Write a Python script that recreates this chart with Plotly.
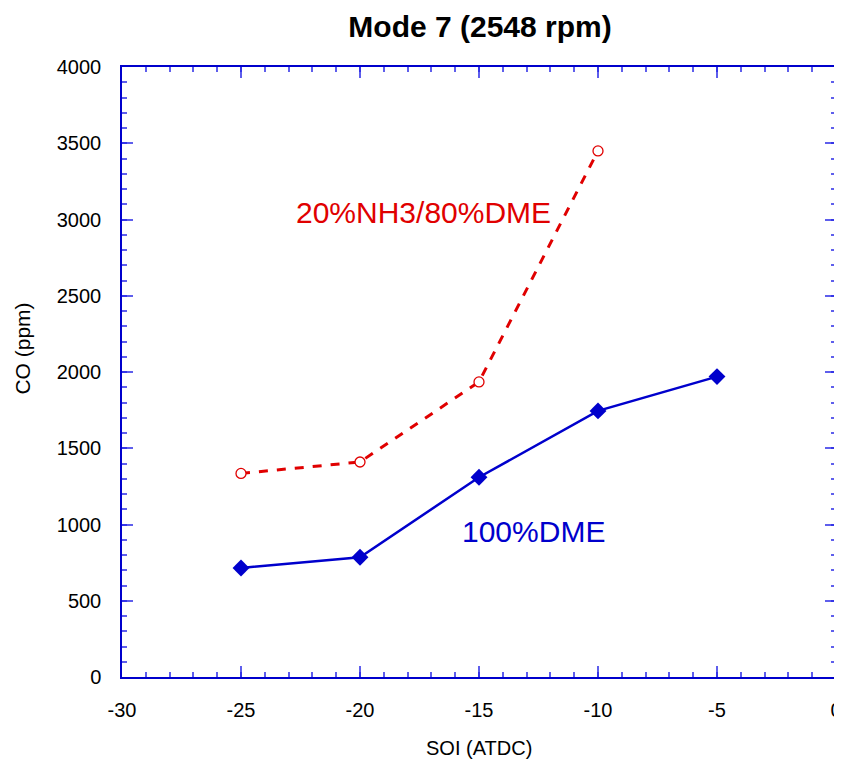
import plotly.graph_objects as go

soi_dme = [-25, -20, -15, -10, -5]
co_dme = [715, 785, 1310, 1745, 1970]
soi_nh3 = [-25, -20, -15, -10]
co_nh3 = [1335, 1410, 1935, 3450]

x_ticks = [-30, -25, -20, -15, -10, -5, 0]
x_tick_labels = ["-30", "-25", "-20", "-15", "-10", "-5", "0"]
y_ticks = [0, 500, 1000, 1500, 2000, 2500, 3000, 3500, 4000]
y_tick_labels = ["0", "500", "1000", "1500", "2000", "2500", "3000", "3500", "4000"]

BLUE = "#0000CC"
RED = "#E00000"
FONT = "Liberation Sans, Arial, sans-serif"

fig = go.Figure()
fig.add_trace(go.Scatter(x=soi_nh3, y=co_nh3, mode="lines+markers",
                         line=dict(color=RED, width=3, dash="dash"),
                         marker=dict(symbol="circle", size=10, color="white", line=dict(width=1.3, color=RED)),
                         showlegend=False))
fig.add_trace(go.Scatter(x=soi_dme, y=co_dme, mode="lines+markers",
                         line=dict(color=BLUE, width=2.5),
                         marker=dict(symbol="diamond", size=13, color=BLUE),
                         showlegend=False))

fig.add_annotation(x=-17.35, y=3043, text="20%NH3/80%DME", showarrow=False,
                   font=dict(family=FONT, size=30, color=RED))
fig.add_annotation(x=-12.73, y=951, text="100%DME", showarrow=False,
                   font=dict(family=FONT, size=30, color=BLUE))

# axis titles placed as paper-referenced text
fig.add_annotation(xref="paper", yref="paper", x=0.5, y=-0.1164, yanchor="middle",
                   text="SOI (ATDC)", showarrow=False,
                   font=dict(family=FONT, size=20, color="black"))
fig.add_annotation(xref="paper", yref="paper", x=-0.139, y=0.538, xanchor="center", yanchor="middle",
                   text="CO (ppm)", textangle=-90, showarrow=False,
                   font=dict(family=FONT, size=21, color="black"))

TICKC = "rgba(40,40,230,0.75)"
axis_common = dict(showgrid=False, zeroline=False, showline=True, linecolor=BLUE, linewidth=1.5,
                   mirror="allticks", ticks="inside", ticklen=11, tickcolor=TICKC, automargin=False,
                   tickwidth=1.5, ticklabeloverflow="allow",
                   tickfont=dict(family=FONT, size=20, color="black"))

fig.update_xaxes(range=[-30, 0], tickvals=x_ticks, ticktext=x_tick_labels, ticklabelstandoff=14,
                 minor=dict(dtick=1, tick0=0, ticks="inside", ticklen=5, tickcolor=TICKC, tickwidth=1.5),
                 **axis_common)
fig.update_yaxes(range=[0, 4000], tickvals=y_ticks, ticktext=y_tick_labels, ticklabelstandoff=15,
                 minor=dict(dtick=100, tick0=0, ticks="inside", ticklen=5, tickcolor=TICKC, tickwidth=1.5),
                 **axis_common)

fig.update_layout(
    width=834, height=753,
    margin=dict(l=114, r=6, t=59, b=84),
    plot_bgcolor="white", paper_bgcolor="white",
    title=dict(text="<b>Mode 7 (2548 rpm)</b>", x=0.566, xanchor="center", y=0.9748, yanchor="middle",
               font=dict(family=FONT, size=30, color="black")),
    font=dict(family=FONT),
)

fig.write_html("out.html")
